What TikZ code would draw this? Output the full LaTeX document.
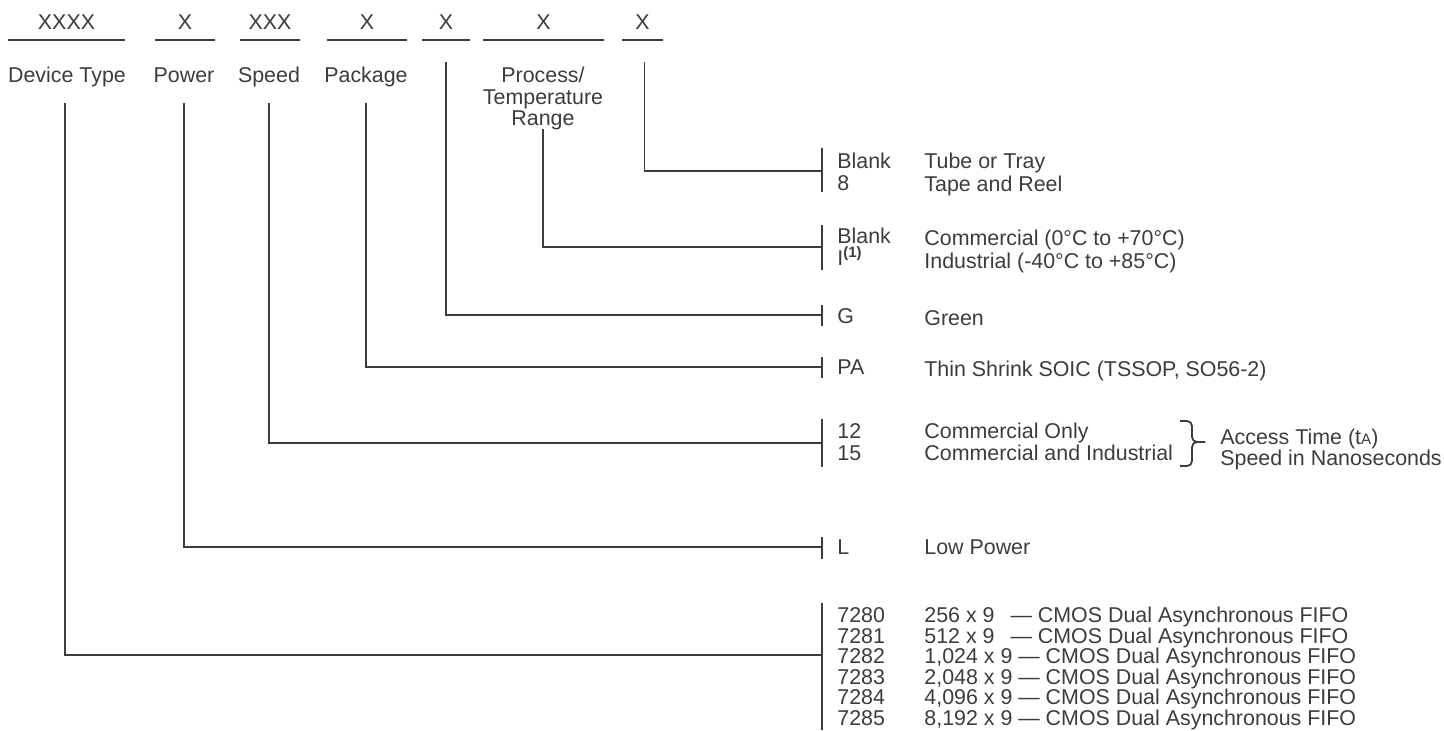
\documentclass[tikz,border=0pt]{standalone}
\usepackage{fontspec}
\setmainfont{Liberation Sans}
\definecolor{ink}{RGB}{60,60,58}
\tikzset{
  lbl/.style={inner sep=0pt, text height=7.6pt, text depth=0pt, text=ink,
    font=\fontsize{10.7}{12}\selectfont},
  item/.style={lbl, anchor=west},
  lead/.style={draw=ink, line width=0.9pt},
}
\begin{document}
\begin{tikzpicture}[x=0.5pt,y=-0.5pt]
 \useasboundingbox (0,0) rectangle (1444,730);
 % ordering code fields
 \foreach \nm/\a/\b/\t in {fdev/8/125/XXXX, fpow/155/215/X, fspd/240/300/XXX,
   fpkg/327/407/X, fgrn/422/470/X, ftmp/483/604/X, fpck/622/663/X} {
   \node[lbl] (\nm) at ({(\a+\b)/2},22) {\t};
   \draw[lead] (\a,40) -- (\b,40);
 }
 \node[lbl] (ldev) at (67,75) {Device Type};
 \node[lbl] (lpow) at (184,75) {Power};
 \node[lbl] (lspd) at (269,75) {Speed};
 \node[lbl] (lpkg) at (366,75) {Package};
 \node[lbl] (ltmp) at (543,75) {Process/};
 \node[lbl] (ltmp2) at (543,97) {Temperature};
 \node[lbl] (ltmp3) at (543,118) {Range};
 % tick bars on the right
 \foreach \nm/\t/\m/\b in {bpck/148/171/192, btmp/225/247/270, bgrn/305/315/326,
   bpkg/357/367/378, bspd/419/443/467, bpow/537/547/559, bdev/603/655/730} {
   \draw[lead] (822,\t) -- (822,\b);
   \coordinate (\nm) at (822,\m);
 }
 % leads from the fields
 \draw[lead] ([yshift=-10pt,xshift=-1pt]ldev.south) |- (bdev);
 \draw[lead] ([yshift=-10pt]lpow.south) |- (bpow);
 \draw[lead] ([yshift=-10pt]lspd.south) |- (bspd);
 \draw[lead] ([yshift=-10pt]lpkg.south) |- (bpkg);
 \draw[lead] ([yshift=-16pt]fgrn.south) |- (bgrn);
 \draw[lead] ([yshift=-1.3pt]ltmp3.south) |- (btmp);
 \draw[lead] ([yshift=-16pt,xshift=1pt]fpck.south) |- (bpck);
 % codes and meanings
 \foreach \yc/\yd/\c/\d [count=\i] in {
   161/161/Blank/Tube or Tray,
   183/184/8/Tape and Reel,
   236/238/Blank/Commercial (0°C to +70°C),
   258/261/I\textsuperscript{\textbf{(1)}}/Industrial (-40°C to +85°C),
   316/318/G/Green,
   367/369/PA/{Thin Shrink SOIC (TSSOP, SO56-2)},
   431/431/12/Commercial Only,
   453/453/15/Commercial and Industrial,
   547/547/L/Low Power,
   615/615/7280/{256 x 9\hspace{8pt}— CMOS Dual Asynchronous FIFO},
   635.5/635.5/7281/{512 x 9\hspace{8pt}— CMOS Dual Asynchronous FIFO},
   656/656/7282/{1,024 x 9 — CMOS Dual Asynchronous FIFO},
   676.5/676.5/7283/{2,048 x 9 — CMOS Dual Asynchronous FIFO},
   697/697/7284/{4,096 x 9 — CMOS Dual Asynchronous FIFO},
   717.5/717.5/7285/{8,192 x 9 — CMOS Dual Asynchronous FIFO}} {
   \node[item] (code\i) at (837,\yc) {\c};
   \node[item] (mean\i) at (924,\yd) {\d};
 }
 % brace for the speed grades
 \draw[lead, rounded corners=2.5pt] (1180,421) -| (1192,442) -- (1205,442);
 \draw[lead, rounded corners=2.5pt] (1205,442) -- (1192,442) |- (1180,466);
 \node[item] (acc) at (1220,437) {Access Time (t{\fontsize{7.6}{8}\selectfont A})};
 \node[item] (nsec) at (1220,458) {Speed in Nanoseconds};
\end{tikzpicture}
\end{document}
